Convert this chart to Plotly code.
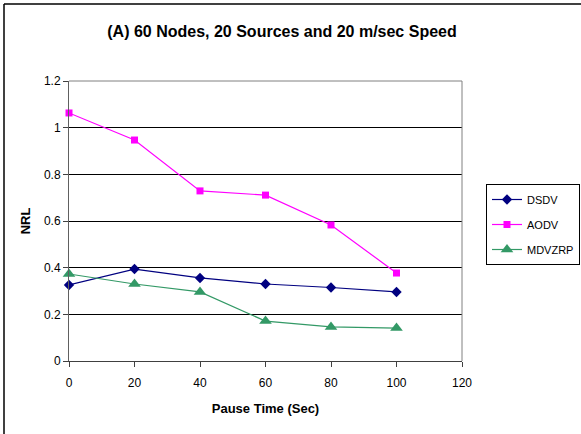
import plotly.graph_objects as go

# Pause time (seconds) on the x axis
pause_time = [0, 20, 40, 60, 80, 100]

# Normalized routing load for each protocol
dsdv = [0.326, 0.394, 0.356, 0.330, 0.315, 0.296]
aodv = [1.063, 0.947, 0.729, 0.711, 0.583, 0.377]
mdvzrp = [0.373, 0.330, 0.296, 0.171, 0.146, 0.141]

x_ticks = [0, 20, 40, 60, 80, 100, 120]
y_ticks = [0, 0.2, 0.4, 0.6, 0.8, 1.0, 1.2]
y_tick_text = ["0", "0.2", "0.4", "0.6", "0.8", "1", "1.2"]

FONT = "Liberation Sans, Arial, sans-serif"

fig = go.Figure()
fig.add_trace(go.Scatter(
    x=pause_time, y=dsdv, name="DSDV", mode="lines+markers", legendgroup="a",
    line=dict(color="#000080", width=1.2),
    marker=dict(symbol="diamond", size=8, color="#000080"),
    cliponaxis=False,
))
fig.add_trace(go.Scatter(
    x=pause_time, y=aodv, name="AODV", mode="lines+markers", legendgroup="b",
    line=dict(color="#FF00FF", width=1.2),
    marker=dict(symbol="square", size=7, color="#FF00FF"),
    cliponaxis=False,
))
fig.add_trace(go.Scatter(
    x=pause_time, y=mdvzrp, name="MDVZRP", mode="lines+markers", legendgroup="c",
    line=dict(color="#339966", width=1.2),
    marker=dict(symbol="triangle-up", size=11, color="#339966"),
    cliponaxis=False,
))

# top and right frame of the plot area
fig.add_shape(type="line", xref="paper", yref="paper", x0=0, x1=1, y0=1, y1=1,
              line=dict(color="#808080", width=1), layer="above")
fig.add_shape(type="line", xref="paper", yref="paper", x0=1, x1=1, y0=0, y1=1,
              line=dict(color="#808080", width=1), layer="above")

# outer chart border (left and top edges)
fig.add_shape(type="line", xref="paper", yref="paper",
              x0=-65 / 393, x1=-65 / 393, y0=-73 / 280, y1=77 / 280 + 1,
              line=dict(color="#000000", width=1.5))
fig.add_shape(type="line", xref="paper", yref="paper",
              x0=-65 / 393, x1=1 + 119 / 393, y0=1 + 77 / 280, y1=1 + 77 / 280,
              line=dict(color="#000000", width=1.5))

fig.update_layout(
    width=581, height=434,
    margin=dict(l=69, r=119, t=81, b=73, autoexpand=False),
    paper_bgcolor="white", plot_bgcolor="white",
    font=dict(family=FONT, size=12, color="black"),
    title=dict(
        text="<b>(A) 60 Nodes, 20 Sources and 20 m/sec Speed</b>",
        x=282 / 581, xanchor="center", xref="container",
        y=1 - 31 / 434, yanchor="middle", yref="container",
        font=dict(family=FONT, size=16, color="black"),
    ),
    xaxis=dict(
        range=[0, 120], tickvals=x_ticks, ticktext=[str(v) for v in x_ticks],
        showgrid=False, zeroline=False,
        showline=True, linecolor="#404040", linewidth=1,
        ticks="outside", ticklen=5, tickcolor="#404040",
        tickfont=dict(size=12), ticklabelstandoff=6,
        title=dict(text="<b>Pause Time (Sec)</b>", font=dict(size=13), standoff=14),
    ),
    yaxis=dict(
        range=[0, 1.2], tickvals=y_ticks, ticktext=y_tick_text,
        showgrid=True, gridcolor="#000000", gridwidth=1,
        zeroline=False,
        showline=True, linecolor="#606060", linewidth=1,
        ticks="outside", ticklen=5, tickcolor="#404040",
        tickfont=dict(size=12),
        title=dict(text="<b>NRL</b>", font=dict(size=13), standoff=10),
    ),
    legend=dict(
        xref="container", x=486 / 581, xanchor="left",
        yref="container", y=1 - 184 / 434, yanchor="top",
        bordercolor="#000000", borderwidth=1,
        bgcolor="white",
        font=dict(size=11),
        tracegroupgap=6,
        itemwidth=30,
    ),
    showlegend=True,
)

fig.write_html("out.html")
